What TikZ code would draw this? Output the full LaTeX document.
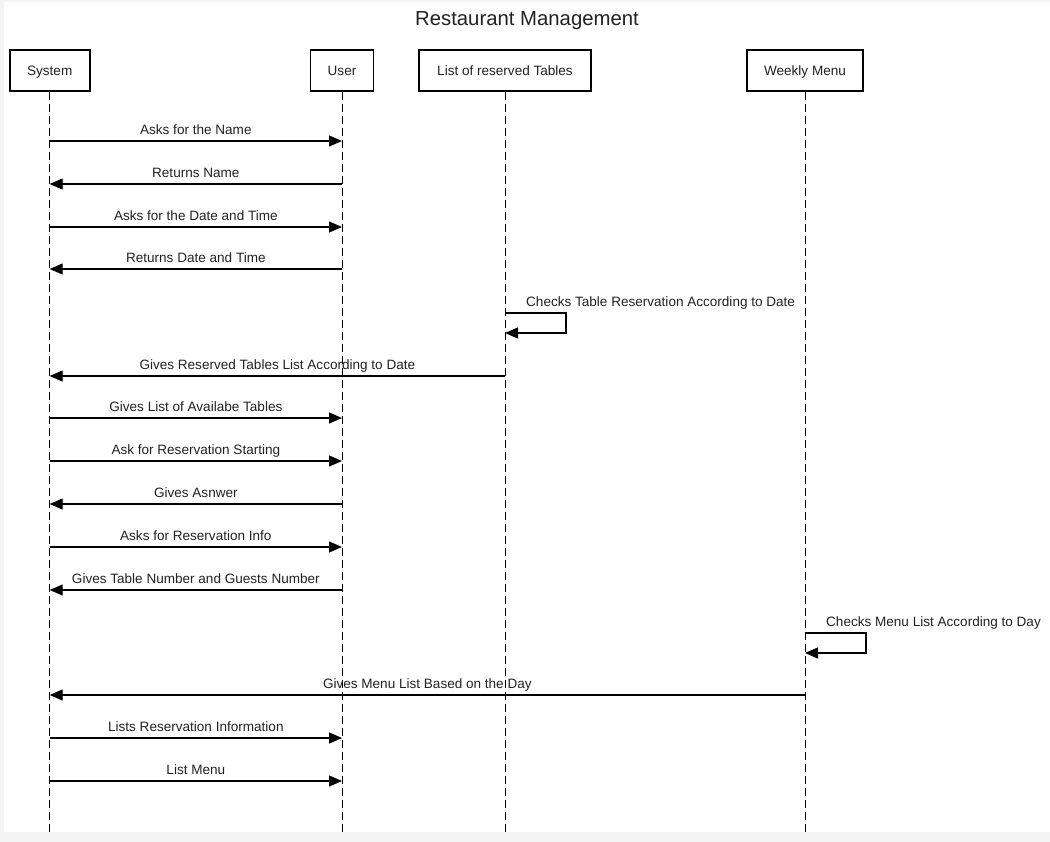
\documentclass[tikz,border=0pt]{standalone}
\usepackage{fontspec}
\setmainfont{Liberation Sans}
\usetikzlibrary{arrows.meta}
\definecolor{pagegray}{HTML}{F4F4F4}
\definecolor{txtgray}{HTML}{222222}

\begin{document}
\begin{tikzpicture}[x=1bp,y=-1bp,>={Triangle[length=13bp,width=11bp]},line join=miter,
  actor/.style={draw,line width=1.8bp,minimum height=41bp,inner sep=0pt,text height=9.7bp,text depth=0bp,text=txtgray,font=\fontsize{13.6}{16}\selectfont},
  lifeline/.style={line width=1bp,dash pattern=on 8bp off 4bp},
  msg/.style={line width=1.2bp,->},
  lbltext/.style={inner sep=0pt,text=txtgray,font=\fontsize{13.6}{16}\selectfont},
  lbl/.style={lbltext,anchor=base,yshift=6.5bp},
  selflbl/.style={lbltext,anchor=base west},
]
%%
\fill [pagegray] (0,0) rectangle (1050,842);
\fill [white] (4,2) rectangle (1050,832);
\node (node_title) at (527,25) [anchor=base,inner sep=0pt,text=txtgray,font=\fontsize{20.4}{24}\selectfont] {Restaurant Management};
%
\node (node_sys) at (49.7,70.5) [actor,minimum width=80bp] {System};
  \node (node_user) at (342,70.5) [actor,minimum width=63bp] {User};
  \node (node_tables) at (505,70.5) [actor,minimum width=172bp] {List of reserved Tables};
  \node (node_menu) at (805,70.5) [actor,minimum width=116bp] {Weekly Menu};
  \coordinate (end_sys) at (49.7,834);
  \coordinate (end_user) at (342,834);
  \coordinate (end_tables) at (505,834);
  \coordinate (end_menu) at (805,834);
  \draw [lifeline] (node_sys.south) -- (end_sys);
  \draw [lifeline] (node_user.south) -- (end_user);
  \draw [lifeline] (node_tables.south) -- (end_tables);
  \draw [lifeline] (node_menu.south) -- (end_menu);
%
\coordinate (s_1) at (49.7,141); \coordinate (u_1) at (342,141);
  \coordinate (s_2) at (49.7,184); \coordinate (u_2) at (342,184);
  \coordinate (s_3) at (49.7,227); \coordinate (u_3) at (342,227);
  \coordinate (s_4) at (49.7,269); \coordinate (u_4) at (342,269);
  \coordinate (t_5a) at (505,313); \coordinate (t_5b) at (505,333);
  \coordinate (s_6) at (49.7,376); \coordinate (t_6) at (505,376);
  \coordinate (s_7) at (49.7,418); \coordinate (u_7) at (342,418);
  \coordinate (s_8) at (49.7,461); \coordinate (u_8) at (342,461);
  \coordinate (s_9) at (49.7,504); \coordinate (u_9) at (342,504);
  \coordinate (s_10) at (49.7,547); \coordinate (u_10) at (342,547);
  \coordinate (s_11) at (49.7,590); \coordinate (u_11) at (342,590);
  \coordinate (m_12a) at (805,633); \coordinate (m_12b) at (805,653);
  \coordinate (s_13) at (49.7,695); \coordinate (m_13) at (805,695);
  \coordinate (s_14) at (49.7,738); \coordinate (u_14) at (342,738);
  \coordinate (s_15) at (49.7,781); \coordinate (u_15) at (342,781);
%
\draw [msg] (s_1) -- node [lbl] {Asks for the Name} (u_1);
  \draw [msg] (u_2) -- node [lbl] {Returns Name} (s_2);
  \draw [msg] (s_3) -- node [lbl] {Asks for the Date and Time} (u_3);
  \draw [msg] (u_4) -- node [lbl] {Returns Date and Time} (s_4);
  \draw [msg] (t_5a) -- ++(61,0) -- ++(0,20) -- (t_5b);
  \node (node_check_tables) at (526,306) [selflbl] {Checks Table Reservation According to Date};
  \draw [msg] (t_6) -- node [lbl] {Gives Reserved Tables List According to Date} (s_6);
  \draw [msg] (s_7) -- node [lbl] {Gives List of Availabe Tables} (u_7);
  \draw [msg] (s_8) -- node [lbl] {Ask for Reservation Starting} (u_8);
  \draw [msg] (u_9) -- node [lbl] {Gives Asnwer} (s_9);
  \draw [msg] (s_10) -- node [lbl] {Asks for Reservation Info} (u_10);
  \draw [msg] (u_11) -- node [lbl] {Gives Table Number and Guests Number} (s_11);
  \draw [msg] (m_12a) -- ++(61,0) -- ++(0,20) -- (m_12b);
  \node (node_check_menu) at (826,626) [selflbl] {Checks Menu List According to Day};
  \draw [msg] (m_13) -- node [lbl] {Gives Menu List Based on the Day} (s_13);
  \draw [msg] (s_14) -- node [lbl] {Lists Reservation Information} (u_14);
  \draw [msg] (s_15) -- node [lbl] {List Menu} (u_15);
%
\end{tikzpicture}
\end{document}
